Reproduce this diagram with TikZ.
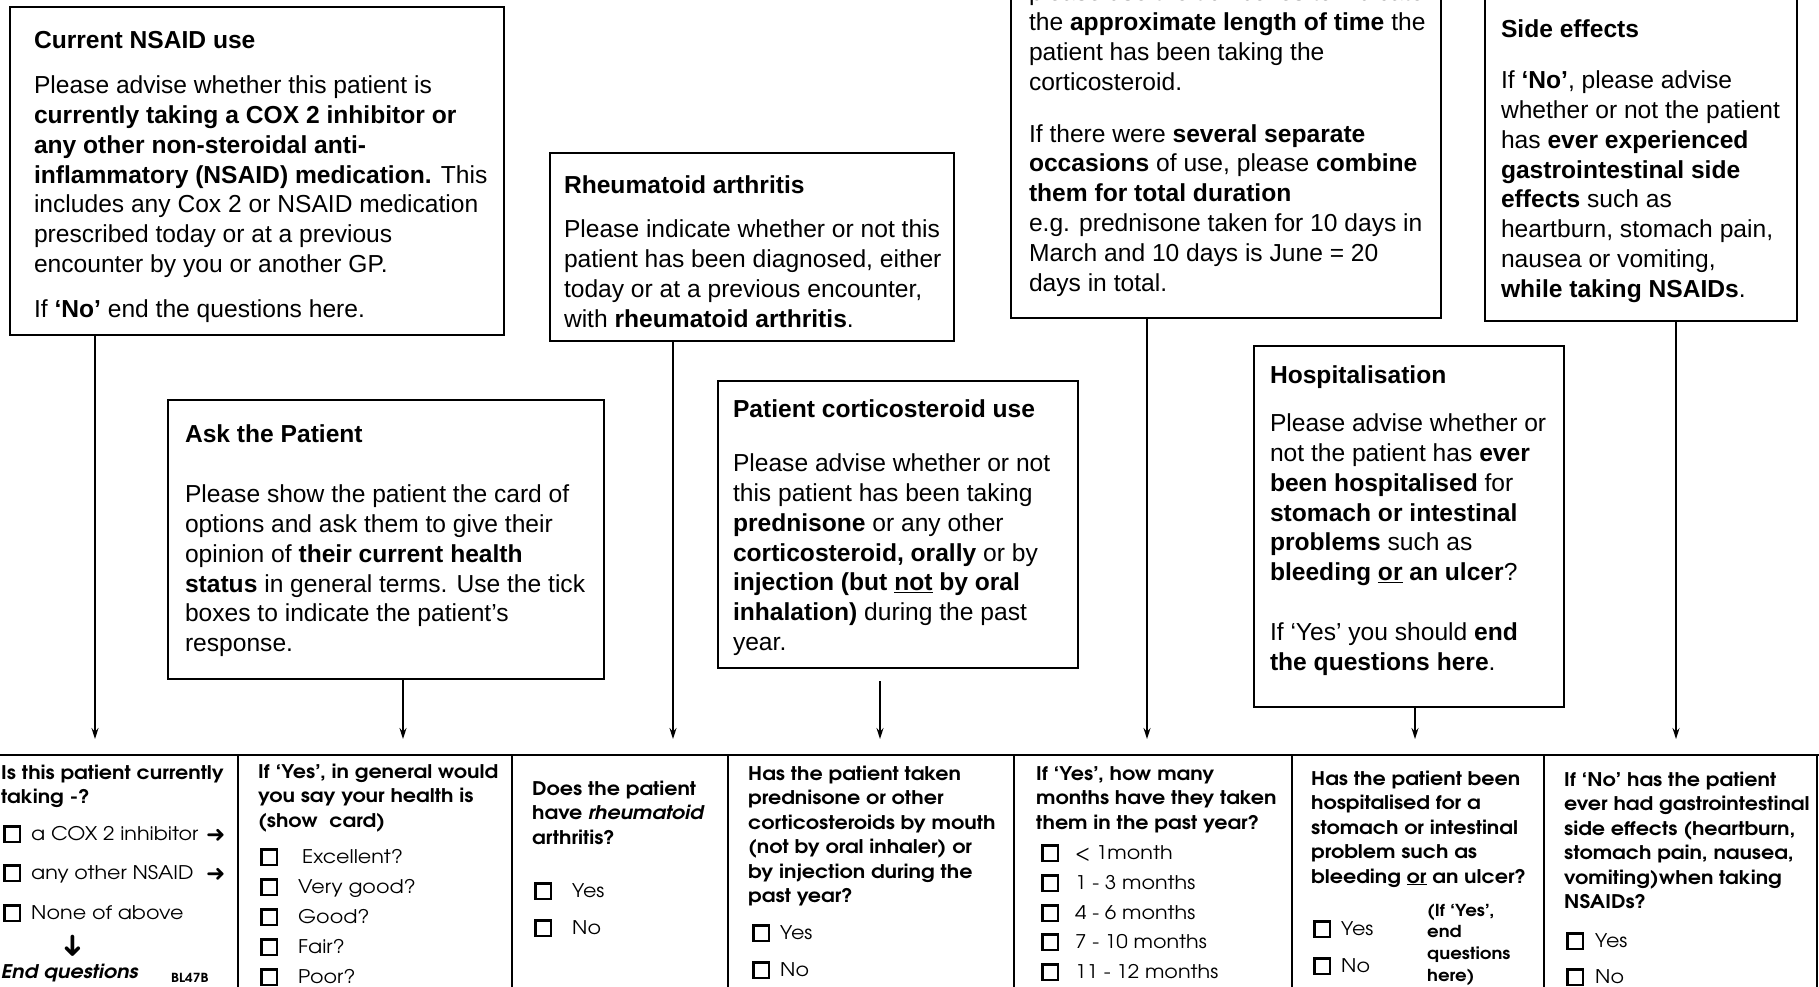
\documentclass[tikz,border=0pt]{standalone}
\usepackage{fontspec}
\setmainfont{Liberation Sans}
\newfontfamily\gothic[FakeStretch=1.1]{TeX Gyre Adventor}
\newfontfamily\symb{DejaVu Sans}
\usetikzlibrary{arrows.meta}

\newcommand{\boxfont}{\fontsize{24.6}{29.8}\selectfont}
\newcommand{\qfont}{\gothic\fontsize{18.8}{24.5}\selectfont}
% panel body: width, height, top gap, left margin, text
\newcommand{\panel}[5]{\parbox[c][#2][t]{#1}{\raggedright\setlength{\leftskip}{#4}\vspace*{#3}\strut #5}}
% question text: width, text
\newcommand{\qtext}[2]{\parbox[t]{#1}{\raggedright #2}}

\begin{document}
\begin{tikzpicture}[x=1pt,y=-1pt,
    panelbox/.style={draw, line width=2pt, inner sep=0pt, anchor=north west, font=\boxfont},
    qtxt/.style={anchor=base west, inner sep=0pt, font=\qfont},
    qhead/.style={qtxt, font=\qfont\bfseries},
    tick/.style={draw, line width=2.5pt, minimum size=15.5pt, inner sep=0pt},
    pointer/.style={anchor=base west, inner sep=0pt, font=\symb\fontsize{23}{24}\selectfont},
    grid/.style={line width=1.6pt}]
  \useasboundingbox (0,0) rectangle (1819,987);
  \clip (0,0) rectangle (1819,987);

  % guidance panels
  \node[panelbox] (nsaid) at (9,6) {\panel{494pt}{328pt}{21pt}{24pt}{%
    \textbf{Current NSAID use}\par\vspace{15pt}
    Please advise whether this patient is\\
    \textbf{currently taking a COX 2 inhibitor or}\\
    \textbf{any other non-steroidal anti-}\\
    \textbf{inflammatory (NSAID) medication.} This\\
    includes any Cox 2 or NSAID medication\\
    prescribed today or at a previous\\
    encounter by you or another GP.\par\vspace{15pt}
    If \textbf{‘No’} end the questions here.}};
  \node[panelbox] (askpat) at (167,399) {\panel{436pt}{279pt}{22pt}{17pt}{%
    \textbf{Ask the Patient}\par\vspace{30pt}
    Please show the patient the card of\\
    options and ask them to give their\\
    opinion of \textbf{their current health}\\
    \textbf{status} in general terms. Use the tick\\
    boxes to indicate the patient’s\\
    response.}};
  \node[panelbox] (rheum) at (549,152) {\panel{404pt}{188pt}{20pt}{14pt}{%
    \textbf{Rheumatoid arthritis}\par\vspace{14pt}
    Please indicate whether or not this\\
    patient has been diagnosed, either\\
    today or at a previous encounter,\\
    with \textbf{rheumatoid arthritis}.}};
  \node[panelbox] (cortico) at (717,380) {\panel{360pt}{287pt}{16pt}{15pt}{%
    \textbf{Patient corticosteroid use}\par\vspace{24pt}
    Please advise whether or not\\
    this patient has been taking\\
    \textbf{prednisone} or any other\\
    \textbf{corticosteroid, orally} or by\\
    \textbf{injection (but \underline{not} by oral}\\
    \textbf{inhalation)} during the past\\
    year.}};
  \node[panelbox] (duration) at (1010,-60) {\panel{430pt}{377pt}{39pt}{18pt}{%
    please use the tick boxes to indicate\\
    the \textbf{approximate length of time} the\\
    patient has been taking the\\
    corticosteroid.\par\vspace{22pt}
    If there were \textbf{several separate}\\
    \textbf{occasions} of use, please \textbf{combine}\\
    \textbf{them for total duration}\\
    e.g. prednisone taken for 10 days in\\
    March and 10 days is June = 20\\
    days in total.}};
  \node[panelbox] (hosp) at (1253,345) {\panel{310pt}{361pt}{17pt}{16pt}{%
    \textbf{Hospitalisation}\par\vspace{18pt}
    Please advise whether or\\
    not the patient has \textbf{ever}\\
    \textbf{been hospitalised} for\\
    \textbf{stomach or intestinal}\\
    \textbf{problems} such as\\
    \textbf{bleeding \underline{or} an ulcer}?\par\vspace{30pt}
    If ‘Yes’ you should \textbf{end}\\
    \textbf{the questions here}.}};
  \node[panelbox] (sidefx) at (1484,-20) {\panel{312pt}{340pt}{36pt}{16pt}{%
    \textbf{Side effects}\par\vspace{21pt}
    If \textbf{‘No’}, please advise\\
    whether or not the patient\\
    has \textbf{ever experienced}\\
    \textbf{gastrointestinal side}\\
    \textbf{effects} such as\\
    heartburn, stomach pain,\\
    nausea or vomiting,\\
    \textbf{while taking NSAIDs}.}};

  % arrow ends above the form
  \coordinate (q1) at (95,739);
  \coordinate (q2) at (403,739);
  \coordinate (q3) at (673,739);
  \coordinate (q4) at (880,739);
  \coordinate (q5) at (1147,739);
  \coordinate (q6) at (1415,739);
  \coordinate (q7) at (1676,739);
  \begin{scope}[line width=1.3pt, -{Stealth[length=11pt,width=7pt]}]
    \draw (nsaid.south -| q1) -- (q1);
    \draw (askpat.south -| q2) -- (q2);
    \draw (rheum.south -| q3) -- (q3);
    \draw[shorten <=12pt] (cortico.south -| q4) -- (q4);
    \draw (duration.south -| q5) -- (q5);
    \draw (hosp.south -| q6) -- (q6);
    \draw (sidefx.south -| q7) -- (q7);
  \end{scope}

  % form grid
  \draw[grid] (0,755) -- (1819,755);
  \draw[grid] (238,755) -- (238,990);
  \draw[grid] (512,755) -- (512,990);
  \draw[grid] (728,755) -- (728,990);
  \draw[grid] (1014,755) -- (1014,990);
  \draw[grid] (1292,755) -- (1292,990);
  \draw[grid] (1544,755) -- (1544,990);
  \draw[grid] (1817,755) -- (1817,990);

  % column 1
  \node[qhead] (h1) at (1,779) {\qtext{235pt}{Is this patient currently\\taking -?}};
  \node[tick] (c1a) at (12,834) {};
  \node[tick] (c1b) at (12,873) {};
  \node[tick] (c1c) at (12,913) {};
  \node[qtxt] (t1a) at (31,840) {a COX 2 inhibitor};
  \node[qtxt] (t1b) at (31,879) {any other NSAID};
  \node[qtxt] (t1c) at (31,919) {None of above};
  \node[pointer] (p1a) at (206,842) {➜};
  \node[pointer] (p1b) at (206,881) {➜};
  \node[font=\symb\fontsize{30}{31}\selectfont, rotate=-90, inner sep=0pt] (p1c) at (72,946) {➜};
  \node[qtxt, font=\qfont\bfseries\itshape] (end1) at (1,978) {End questions};
  \node[qtxt, font=\gothic\bfseries\fontsize{12.5}{14}\selectfont] (code1) at (171,982) {BL47B};

  % column 2
  \node[qhead] (h2) at (258,778) {\qtext{250pt}{If ‘Yes’, in general would\\you say your health is\\(show\ \ card)}};
  \node[tick] (c2a) at (269,857) {};
  \node[tick] (c2b) at (269,887) {};
  \node[tick] (c2c) at (269,917) {};
  \node[tick] (c2d) at (269,947) {};
  \node[tick] (c2e) at (269,977) {};
  \node[qtxt] (t2a) at (302,863) {Excellent?};
  \node[qtxt] (t2b) at (298,893) {Very good?};
  \node[qtxt] (t2c) at (298,923) {Good?};
  \node[qtxt] (t2d) at (298,953) {Fair?};
  \node[qtxt] (t2e) at (298,983) {Poor?};

  % column 3
  \node[qhead] (h3) at (532,795) {\qtext{190pt}{Does the patient\\have \textit{rheumatoid}\\arthritis?}};
  \node[tick] (c3a) at (543,891) {};
  \node[tick] (c3b) at (543,928) {};
  \node[qtxt] (t3a) at (572,897) {Yes};
  \node[qtxt] (t3b) at (572,934) {No};

  % column 4
  \node[qhead] (h4) at (748,780) {\qtext{280pt}{Has the patient taken\\prednisone or other\\corticosteroids by mouth\\(not by oral inhaler) or\\by injection during the\\past year?}};
  \node[tick] (c4a) at (761,933) {};
  \node[tick] (c4b) at (761,970) {};
  \node[qtxt] (t4a) at (780,939) {Yes};
  \node[qtxt] (t4b) at (780,976) {No};

  % column 5
  \node[qhead] (h5) at (1036,780) {\qtext{270pt}{If ‘Yes’, how many\\months have they taken\\them in the past year?}};
  \node[tick] (c5a) at (1050,853) {};
  \node[tick] (c5b) at (1050,883) {};
  \node[tick] (c5c) at (1050,913) {};
  \node[tick] (c5d) at (1050,942) {};
  \node[tick] (c5e) at (1050,972) {};
  \node[qtxt] (t5a) at (1075,859) {< 1month};
  \node[qtxt] (t5b) at (1075,889) {1 - 3 months};
  \node[qtxt] (t5c) at (1075,919) {4 - 6 months};
  \node[qtxt] (t5d) at (1075,948) {7 - 10 months};
  \node[qtxt] (t5e) at (1075,978) {11 - 12 months};

  % column 6
  \node[qhead] (h6) at (1311,785) {\qtext{240pt}{Has the patient been\\hospitalised for a\\stomach or intestinal\\problem such as\\bleeding \underline{or} an ulcer?}};
  \node[tick] (c6a) at (1322,929) {};
  \node[tick] (c6b) at (1322,966) {};
  \node[qtxt] (t6a) at (1341,935) {Yes};
  \node[qtxt] (t6b) at (1341,972) {No};
  \node[qtxt, font=\gothic\bfseries\fontsize{16.5}{21.7}\selectfont] (n6) at (1427,916) {\qtext{110pt}{(If ‘Yes’,\\end\\questions\\here)}};

  % column 7
  \node[qhead] (h7) at (1564,786) {\qtext{260pt}{If ‘No’ has the patient\\ever had gastrointestinal\\side effects (heartburn,\\stomach pain, nausea,\\vomiting)when taking\\NSAIDs?}};
  \node[tick] (c7a) at (1575,941) {};
  \node[tick] (c7b) at (1575,977) {};
  \node[qtxt] (t7a) at (1595,947) {Yes};
  \node[qtxt] (t7b) at (1595,983) {No};
\end{tikzpicture}
\end{document}
